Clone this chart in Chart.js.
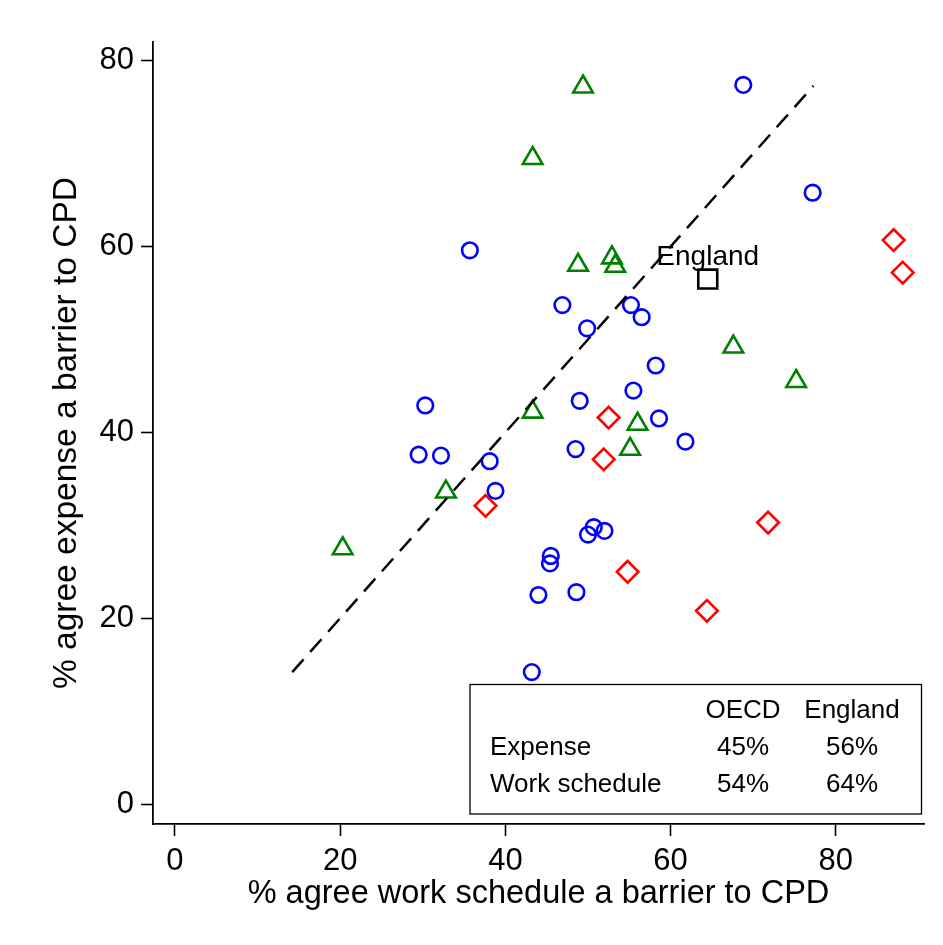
<!DOCTYPE html>
<html>
<head>
<meta charset="utf-8">
<script src="https://cdn.jsdelivr.net/npm/chart.js@4.4.1/dist/chart.umd.min.js"></script>
<style>
  html, body { margin: 0; padding: 0; background: #fff; }
  #wrap { width: 943px; height: 945px; }
</style>
</head>
<body>
<div id="wrap"><canvas id="myChart" width="943" height="945"></canvas></div>
<script>
// % agree work schedule (x) vs expense (y) a barrier to CPD
const blueX = [68.8, 77.2, 35.7, 46.9, 55.2, 56.5, 49.9, 58.2, 55.5, 49.0, 58.6, 61.8, 48.5,
  30.3, 29.5, 32.2, 38.1, 38.8, 50.7, 50.0, 52.0, 45.5, 45.4, 44.0, 48.6, 43.2];
const blueY = [77.4, 65.8, 59.6, 53.7, 53.7, 52.4, 51.2, 47.2, 44.5, 43.4, 41.5, 39.0, 38.2,
  42.9, 37.6, 37.5, 36.9, 33.7, 29.8, 29.0, 29.4, 26.7, 25.9, 22.5, 22.8, 14.2];

const greenX = [49.4, 43.3, 48.8, 52.9, 53.3, 67.6, 75.2, 43.3, 56.0, 55.1, 32.8, 20.3];
const greenY = [77.2, 69.5, 58.0, 58.8, 57.9, 49.2, 45.5, 42.2, 40.9, 38.2, 33.6, 27.5];

const redX = [87.0, 88.1, 52.5, 51.9, 37.6, 71.8, 54.8, 64.4];
const redY = [60.7, 57.2, 41.6, 37.1, 32.1, 30.3, 25.0, 20.8];

const englandX = [64.5];
const englandY = [56.5];

const lineX = [14.2, 77.3];
const lineY = [14.2, 77.3];

const tickValues = [0, 20, 40, 60, 80];

const tableHead = ["OECD", "England"];
const tableRows = ["Expense", "Work schedule"];
const tableOecd = ["45%", "54%"];
const tableEngland = ["56%", "64%"];

const FONT = "'Liberation Sans', Arial, sans-serif";

function toPoints(xs, ys) {
  return xs.map((x, i) => ({ x: x, y: ys[i] }));
}

// England label + summary table
const extrasPlugin = {
  id: "extras",
  afterDatasetsDraw(chart) {
    const ctx = chart.ctx;
    const xs = chart.scales.x;
    const ys = chart.scales.y;
    ctx.save();

    // label over the England marker
    const ex = xs.getPixelForValue(englandX[0]);
    const ey = ys.getPixelForValue(englandY[0]);
    ctx.fillStyle = "#000";
    ctx.font = "28px " + FONT;
    ctx.textAlign = "center";
    ctx.textBaseline = "alphabetic";
    ctx.fillText("England", ex, ey - 14);

    // table box
    const left = 470, top = 684.5, right = 921.5, bottom = 814;
    ctx.fillStyle = "#fff";
    ctx.fillRect(left, top, right - left, bottom - top);
    ctx.strokeStyle = "#000";
    ctx.lineWidth = 1.3;
    ctx.strokeRect(left, top, right - left, bottom - top);

    ctx.fillStyle = "#000";
    ctx.font = "26px " + FONT;
    ctx.textBaseline = "middle";
    const colA = 743, colB = 852;
    const rowYs = [748, 785];
    ctx.textAlign = "center";
    ctx.fillText(tableHead[0], colA, 711);
    ctx.fillText(tableHead[1], colB, 711);
    tableRows.forEach((r, i) => {
      ctx.textAlign = "left";
      ctx.fillText(r, 490, rowYs[i]);
      ctx.textAlign = "center";
      ctx.fillText(tableOecd[i], colA, rowYs[i]);
      ctx.fillText(tableEngland[i], colB, rowYs[i]);
    });
    ctx.restore();
  },
};

const ctx = document.getElementById("myChart").getContext("2d");

const myChart = new Chart(ctx, {
  type: "scatter",
  data: {
    datasets: [
      {
        type: "line",
        data: toPoints(lineX, lineY),
        borderColor: "#000",
        borderWidth: 2.5,
        borderDash: [17, 10],
        pointRadius: 0,
        fill: false,
      },
      {
        data: toPoints(blueX, blueY),
        pointStyle: "circle",
        pointRadius: 7.8,
        borderColor: "#0000ff",
        borderWidth: 2.6,
        backgroundColor: "rgba(0,0,0,0)",
      },
      {
        data: toPoints(greenX, greenY),
        pointStyle: "triangle",
        pointRadius: 11.3,
        borderColor: "#008000",
        borderWidth: 2.6,
        backgroundColor: "rgba(0,0,0,0)",
      },
      {
        data: toPoints(redX, redY),
        pointStyle: "rectRot",
        pointRadius: 10.8,
        borderColor: "#ff0000",
        borderWidth: 2.6,
        backgroundColor: "rgba(0,0,0,0)",
      },
      {
        data: toPoints(englandX, englandY),
        pointStyle: "rect",
        pointRadius: 13.4,
        borderColor: "#000",
        borderWidth: 2.6,
        backgroundColor: "rgba(0,0,0,0)",
      },
    ],
  },
  options: {
    responsive: false,
    devicePixelRatio: 1,
    animation: false,
    layout: { padding: { top: 42, right: 19, left: 0, bottom: 0 } },
    plugins: {
      legend: { display: false },
      tooltip: { enabled: false },
    },
    scales: {
      x: {
        type: "linear",
        min: -2.66,
        max: 90.68,
        afterFit: (scale) => { scale.height = 121; },
        afterBuildTicks: (scale) => { scale.ticks = tickValues.map((v) => ({ value: v })); },
        grid: { drawOnChartArea: false, tickLength: 12, tickWidth: 1.6, tickColor: "#000" },
        border: { display: true, color: "#000", width: 1.8 },
        ticks: { color: "#000", padding: 7, font: { family: FONT, size: 31 }, maxRotation: 0 },
        title: {
          display: true,
          text: "% agree work schedule a barrier to CPD",
          color: "#000",
          font: { family: FONT, size: 32.5 },
          padding: { top: 0, bottom: 31 },
        },
      },
      y: {
        type: "linear",
        min: -2.15,
        max: 82.02,
        afterFit: (scale) => { scale.width = 153; },
        afterBuildTicks: (scale) => { scale.ticks = tickValues.map((v) => ({ value: v })); },
        grid: { drawOnChartArea: false, tickLength: 12, tickWidth: 1.6, tickColor: "#000" },
        border: { display: true, color: "#000", width: 1.8 },
        ticks: { color: "#000", padding: 7, font: { family: FONT, size: 31 } },
        title: {
          display: true,
          text: "% agree expense a barrier to CPD",
          color: "#000",
          font: { family: FONT, size: 33.5 },
          padding: { top: 47, bottom: 0 },
        },
      },
    },
  },
  plugins: [extrasPlugin],
});
</script>
</body>
</html>
